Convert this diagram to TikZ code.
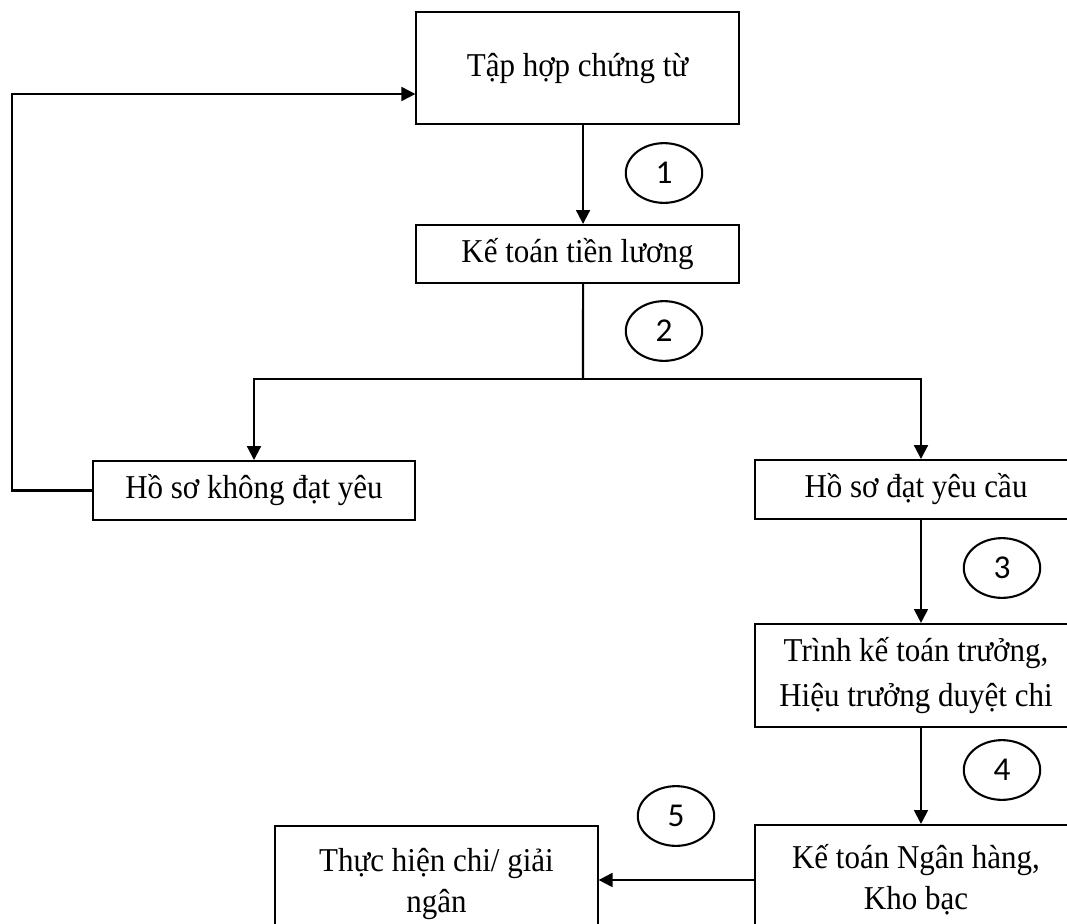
\documentclass[tikz,border=0pt]{standalone}
\usepackage{fontspec}
\setmainfont{Liberation Serif}[FakeStretch=0.93]
\newfontfamily\numfont{Carlito}
\usetikzlibrary{arrows.meta,shapes.geometric}

\begin{document}
\begin{tikzpicture}[x=0.36pt, y=-0.36pt, line width=0.75pt,
        >={Triangle[length=5pt,width=5pt]},
        stepbox/.style={shape=rectangle,draw=black,minimum width=116pt,
            inner sep=0pt,align=center,font=\fontsize{12}{14.8}\selectfont},
        numcircle/.style={shape=ellipse,draw=black,minimum width=27.5pt,
            minimum height=21.5pt,inner sep=0pt,font=\numfont\fontsize{12}{14}\selectfont}]
            \clip (0, 0) rectangle (1067, 924);

            \node (taphop)[stepbox,minimum height=40.3pt]
                at (577.5, 68) {Tập hợp chứng từ};
            \node (ketoan)[stepbox,minimum height=20.9pt]
                at (577.5, 254) {Kế toán tiền lương};
            \node (khongdat)[stepbox,minimum height=21.2pt]
                at (254, 490.5) {Hồ sơ không đạt yêu};
            \node (dat)[stepbox,minimum height=21.2pt]
                at (916, 489.5) {Hồ sơ đạt yêu cầu};
            \node (trinh)[stepbox,minimum height=37.1pt,font=\fontsize{12}{16}\selectfont]
                at (916, 675.5) {Trình kế toán trưởng,\\Hiệu trưởng duyệt chi};
            \node (nganhang)[stepbox,minimum height=39.6pt]
                at (916, 880) {Kế toán Ngân hàng,\\Kho bạc};
            \node (giaingan)[stepbox,minimum height=42pt,anchor=north]
                at (436.5, 825) {Thực hiện chi/ giải\\ngân};

            \node (n1)[numcircle] at (664, 173) {1};
            \node (n2)[numcircle] at (664, 331) {2};
            \node (n3)[numcircle] at (1002, 568) {3};
            \node (n4)[numcircle] at (1002, 770) {4};
            \node (n5)[numcircle] at (676, 816) {5};

            \coordinate (split) at (583, 379);
            \coordinate (loop) at (12, 94);

            \path [->] ([xshift=2pt]taphop.south) edge ([xshift=2pt]ketoan.north);
            \draw ([xshift=2pt]ketoan.south) -- (split);
            \draw [->] (split) -| (khongdat.north);
            \draw [->] (split) -| ([xshift=1.8pt]dat.north);
            \path [->] ([xshift=1.8pt]dat.south) edge ([xshift=1.8pt]trinh.north);
            \path [->] ([xshift=1.8pt]trinh.south) edge ([xshift=1.8pt]nganhang.north);
            \path [->] (nganhang.west) edge (giaingan.east |- nganhang.west);
            \draw [->] (khongdat.west) -| (loop) -- (loop -| taphop.west);
         \end{tikzpicture}
\end{document}
